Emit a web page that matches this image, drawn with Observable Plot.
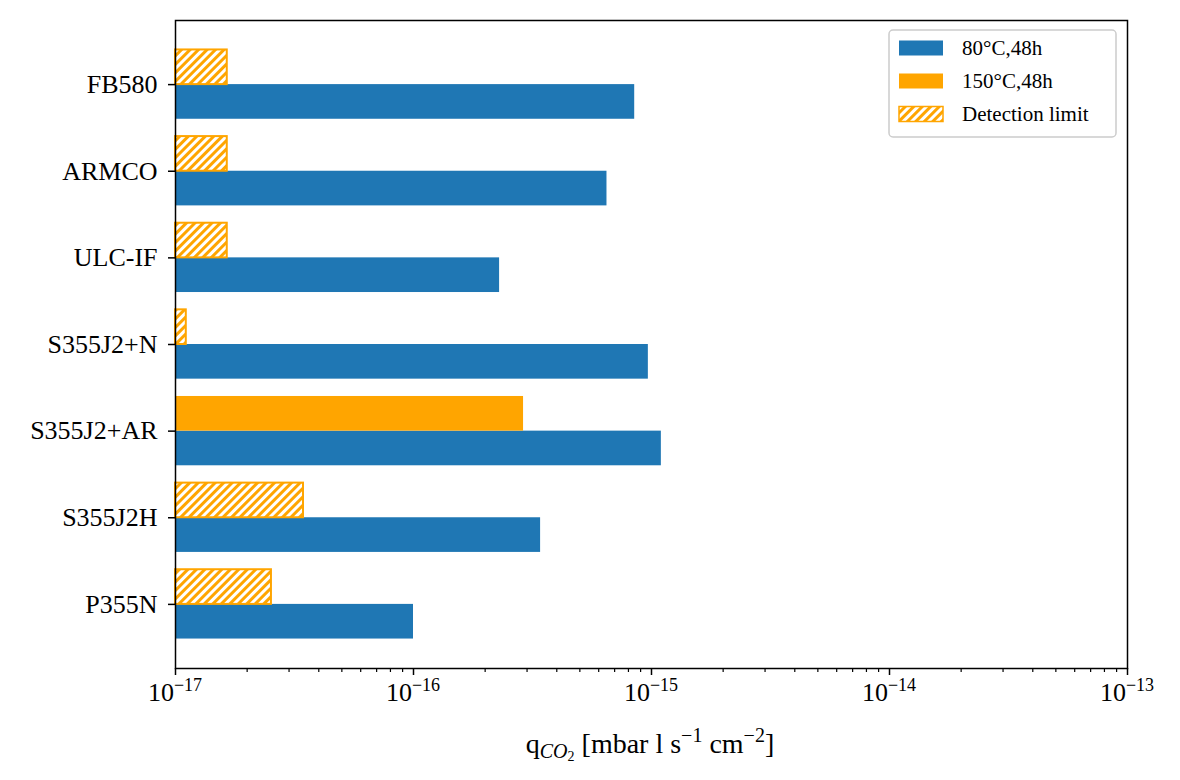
<!DOCTYPE html>
<html>
<head>
<meta charset="utf-8">
<script src="https://cdn.jsdelivr.net/npm/d3@7"></script>
<script src="https://cdn.jsdelivr.net/npm/@observablehq/plot@0.6"></script>
<style>
  html, body { margin: 0; padding: 0; background: #fff; }
  #chart { width: 1180px; height: 780px; }
</style>
</head>
<body>
<div id="chart"></div>
<script>
// ---- data ----
const categories = ["P355N", "S355J2H", "S355J2+AR", "S355J2+N", "ULC-IF", "ARMCO", "FB580"];
const values80 = [1.0e-16, 3.42e-16, 1.1e-15, 9.7e-16, 2.3e-16, 6.5e-16, 8.5e-16];
const values150 = [2.53e-17, 3.45e-17, 2.9e-16, 1.11e-17, 1.65e-17, 1.65e-17, 1.65e-17];
const isDetectionLimit = [true, true, false, true, true, true, true];
const seriesLabels = ["80°C,48h", "150°C,48h", "Detection limit"];
const majorTicks = [1e-17, 1e-16, 1e-15, 1e-14, 1e-13];
const majorTickExponents = ["−17", "−16", "−15", "−14", "−13"];
const xDomain = [1e-17, 1e-13];

const blue = "#1f77b4";
const orange = "#ffa500";
const FONT = "'Liberation Serif', 'DejaVu Serif', serif";

const minorTicks = [];
for (let e = -17; e < -13; e++) for (let m = 2; m <= 9; m++) minorTicks.push(m * Math.pow(10, e));

const rows = categories.map((c, i) => ({
  cat: c, i, v80: values80[i], v150: values150[i], det: isDetectionLimit[i]
}));

const svg = Plot.plot({
  width: 1180,
  height: 780,
  marginLeft: 175,
  marginRight: 53,
  marginTop: 20,
  marginBottom: 112,
  style: { fontFamily: FONT, fontSize: "26px", color: "#000", background: "#fff" },
  x: { type: "log", domain: xDomain },
  y: { domain: [-0.74, 6.74] },
  marks: [
    Plot.rectX(rows, { x1: xDomain[0], x2: "v80", y1: d => d.i - 0.4, y2: d => d.i, fill: blue }),
    Plot.rectX(rows.filter(d => !d.det), { x1: xDomain[0], x2: "v150", y1: d => d.i, y2: d => d.i + 0.4, fill: orange }),
    Plot.rectX(rows.filter(d => d.det), { x1: xDomain[0], x2: "v150", y1: d => d.i, y2: d => d.i + 0.4, fill: "url(#hatch)", stroke: orange, strokeWidth: 2 }),
    Plot.frame({ stroke: "#000", strokeWidth: 1.5 }),
    Plot.axisX({ ticks: minorTicks, tickSize: 4, tickFormat: () => "", strokeWidth: 1.2 }),
    Plot.axisX({ ticks: majorTicks, tickSize: 7, strokeWidth: 1.5, tickFormat: () => "", label: null }),
    Plot.axisY({ ticks: d3.range(categories.length), tickSize: 7, tickPadding: 11, strokeWidth: 1.5,
      tickFormat: i => categories[i], fontSize: 26, label: null })
  ]
});

document.getElementById("chart").appendChild(svg);

const s = d3.select(svg);
// hatch pattern
const defs = s.insert("defs", ":first-child");
const pat = defs.append("pattern").attr("id", "hatch").attr("patternUnits", "userSpaceOnUse")
  .attr("width", 6).attr("height", 6).attr("patternTransform", "rotate(45)");
pat.append("rect").attr("width", 6).attr("height", 6).attr("fill", "#fff");
pat.append("rect").attr("x", 0).attr("y", 0).attr("width", 3).attr("height", 6).attr("fill", orange);

// major tick labels with superscript exponent, positioned by the x scale
const xs = svg.scale("x");
const tl = s.append("g").attr("font-family", FONT).attr("fill", "#000").attr("text-anchor", "middle");
majorTicks.forEach((t, k) => {
  const txt = tl.append("text").attr("x", xs.apply(t)).attr("y", 701).attr("font-size", 26);
  txt.append("tspan").text("10");
  txt.append("tspan").attr("font-size", 18).attr("dy", -10).text(majorTickExponents[k]);
});

// x label with sub/superscripts
const xl = s.append("text").attr("x", 650).attr("y", 753).attr("text-anchor", "middle")
  .attr("font-family", FONT).attr("font-size", 28).attr("fill", "#000");
xl.append("tspan").text("q");
xl.append("tspan").attr("font-size", 20).attr("dy", 5).attr("font-style", "italic").text("CO");
xl.append("tspan").attr("font-size", 14).attr("dy", 3).text("2");
xl.append("tspan").attr("dy", -8).text(" [mbar l s");
xl.append("tspan").attr("font-size", 20).attr("dy", -11).text("−1");
xl.append("tspan").attr("dy", 11).text(" cm");
xl.append("tspan").attr("font-size", 20).attr("dy", -11).text("−2");
xl.append("tspan").attr("dy", 11).text("]");

// legend
const lg = s.append("g").attr("font-family", FONT).attr("font-size", 21).attr("text-anchor", "start");
lg.append("rect").attr("x", 889).attr("y", 30).attr("width", 227).attr("height", 107)
  .attr("rx", 4).attr("fill", "#fff").attr("fill-opacity", 0.8).attr("stroke", "#cccccc").attr("stroke-width", 1.5);
const swatchFills = [blue, orange, "url(#hatch)"];
const rowY = [48, 81, 114];
seriesLabels.forEach((lab, k) => {
  const r = lg.append("rect").attr("x", 899).attr("y", rowY[k] - 7.5).attr("width", 44).attr("height", 15)
    .attr("fill", swatchFills[k]);
  if (k === 2) r.attr("stroke", orange).attr("stroke-width", 1.5);
  lg.append("text").attr("x", 962).attr("y", rowY[k]).attr("dy", "0.35em").attr("fill", "#000").text(lab);
});
</script>
</body>
</html>
